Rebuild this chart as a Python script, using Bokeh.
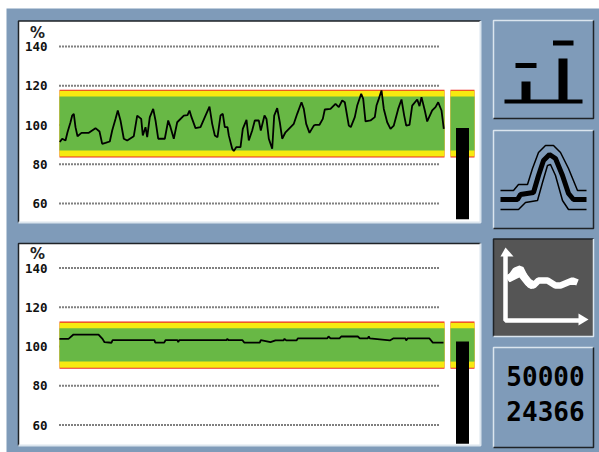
from bokeh.plotting import figure
from bokeh.models import Range1d
from bokeh.core.properties import value
from bokeh.embed import file_html
from bokeh.resources import INLINE

# ---- chart data ----
tick_values = [140, 120, 100, 80, 60]
grid_start, grid_end = 0, 381
band_end = 385

top_t = [0.3,2.7,6,8,11,12.7,14.3,16,18,22,29.3,36,40,42.7,46,50.3,52.7,56,58.3,61,64.3,67.7,74.3,77.7,81.7,83.3,86,87.7,90.3,93.7,96,98.7,105.3,108.7,111,114.3,117.7,124.3,128,
         130,132,136,141,146,150,152.7,155.3,158,161,163.3,165.3,168,169.3,172.7,174.3,176.7,181,183.3,187,189.3,192.7,195.3,199.3,201.3,205,207,209.3,212.7,214.7,217.7,220.3,222.7,226,234.3,237.7,242,244.3,246.7,250,254.3,
         256,260,263.3,265.3,271,276,279.3,282.7,285.3,289.3,291.3,295.3,297.7,301.7,303.7,306,311,315.3,317,319.3,322,324.3,327.7,331,334.3,338.7,342,344.7,346.7,350,352.7,357.7,360,362,365.3,367.7,372.7,376,378.7,382,384.3]
top_v = [91.3,93,92.1,96.3,101.4,104.8,105.7,98.9,94.3,96,96,98.4,96.7,90.4,90.9,91.6,97.2,103.1,107.4,102.3,93,92.1,94.3,104.8,103.1,94.7,98.9,93.8,104,108.2,102.3,93,93,102.3,98.9,93,101.4,104.8,105,
         107.4,104,98.4,98.9,104.8,109.4,100.6,94.7,93.8,104.8,105.7,98.9,98.9,94.7,87.9,86.7,88.7,88.7,98,102.6,92.1,97.2,102.3,102.3,97.2,104.8,103.1,93,87.9,104.8,108.6,101.4,93,96.3,100.6,105.7,111.6,108.2,100.6,96,99.7,
         100.1,100.1,103.1,107.9,108.2,110.8,109.1,112.5,111.6,99.7,98.9,104,109.9,115.9,113.3,101.8,102.3,104,109.9,113.3,117.6,108.2,101.4,98,99.7,108.2,113,104.8,99.7,100.1,109.9,113,109.6,114.2,107.4,101.8,107.4,109.1,111.6,107.4,98]

bottom_t = [0,9,14,39,43,45,52,53,59,67,95,95.7,104.7,106,118,118.7,119.7,120.7,167,167.7,169.3,183,184.7,200.3,201.3,211,216,224,225,226.7,237,238.3,267.7,269,271,280,281.7,298.3,300.3,308.3,309.3,310.3,330.3,333.7,346,346.7,348,370,373.3,384]
bottom_v = [103.9,103.9,106.1,106.1,103.9,102.2,101.9,103.2,103.2,103.2,103.2,102,102,103.2,103.2,102.2,103.2,103.2,103.2,103.9,103.2,103.2,102,102,103.2,102.2,103.1,103.1,103.9,103.1,103.1,104.1,104.1,105.1,104.1,104.1,105.1,105.1,104.1,104.1,105.1,104.1,103.1,104.1,104.1,103.1,104.1,104.1,102,102]

top_limits = [118, 114.5, 87, 83.4]
bottom_limits = [112.7, 109.3, 92.3, 88.6]
top_gauge, bottom_gauge = 98.5, 102.5
top_floor, bottom_floor = 52, 50.5
counter_lines = ["50000", "24366"]

icon_baseline_x = [504, 582]
icon_bar_x = [525.5, 562.5]
icon_bar_top = [81, 58]
icon_cap_y = [65, 42.5]
curve_mid_x = [500,517,520,533,538,543,549,555,562,568,573,586]
curve_mid_y = [199,199,194,192,175,160,154,158,175,193,199,199]
curve_hi_x = [500,513,518,527,532,538,545,553,560,568,577,586]
curve_hi_y = [190,190,184,184,168,152,145,145,152,168,190,190]
curve_lo_x = [500,518,525,537,542,547,550,555,562,568,576,586]
curve_lo_y = [209,209,202,200,182,165,164,175,200,209,209,209]
trend_x = [507,510,515,520,525,530,533,538,547,555,560,572,577]
trend_y = [279,277,270,268,278,285,285,280,280,285,285,280,282]
trend_wide_x = [508,520,528,533]
trend_wide_y = [278,272,282,285]

# ---- figure (1 unit = 1 page pixel) ----
W, H = 599, 452
PX_PER_PCT = 1.9625

def pct_range(y_at_100):
    return Range1d(100 + (y_at_100 - H) / PX_PER_PCT, 100 + y_at_100 / PX_PER_PCT)

p = figure(width=W, height=H, output_backend="svg", toolbar_location=None,
           x_range=Range1d(0, W), y_range=Range1d(H, 0), min_border=0,
           background_fill_color="white", border_fill_color="white", outline_line_color=None)
p.styles = {"position": "absolute", "left": "0px", "top": "0px"}
p.axis.visible = False
p.grid.visible = False
p.extra_x_ranges = {"t": Range1d(-59, W - 59)}
p.extra_y_ranges = {"a": pct_range(124.5), "b": pct_range(346)}

BLUE, DARK, LIGHT = "#7f9bb9", "#1f2327", "#dbe5ee"
p.quad(left=6, right=W, top=8, bottom=H, fill_color=BLUE, line_color=None)

def panel(top, bottom):
    p.quad(left=18, right=480, top=top, bottom=bottom, fill_color="white", line_color=None)
    p.line([18, 18, 480], [bottom, top, top], line_color=DARK, line_width=1.5)
    p.line([18, 480, 480], [bottom, bottom, top], line_color=LIGHT, line_width=2)

panel(20.5, 222)
panel(243, 445)

GREEN, YELLOW, RED = "#68b845", "#f6ea10", "#ee2b25"

def chart(rng, limits, t, v, gauge, floor, side_start=391, side_end=415):
    for val in tick_values:
        p.line([grid_start, grid_end], [val, val], x_range_name="t", y_range_name=rng,
               line_color="black", line_width=2, line_dash="1 2")
        p.text([-12], [val], text=[str(val)], x_range_name="t", y_range_name=rng,
               text_font=value("DejaVu Sans Mono"), text_font_style="bold", text_font_size="12.5px",
               text_align="right", text_baseline="middle", text_color="#111")
    hi, yhi, ylo, lo = limits
    for a, b in [(0, band_end), (side_start, side_end)]:
        p.quad(left=a, right=b, top=hi, bottom=lo, x_range_name="t", y_range_name=rng, fill_color=RED, line_color=None)
        p.quad(left=a, right=b, top=hi - 0.6, bottom=lo + 0.6, x_range_name="t", y_range_name=rng, fill_color=YELLOW, line_color=None)
        p.quad(left=a, right=b, top=yhi, bottom=ylo, x_range_name="t", y_range_name=rng, fill_color=GREEN, line_color=None)
    p.line(t, v, x_range_name="t", y_range_name=rng, line_color="black", line_width=1.8)
    p.quad(left=396.5, right=409.5, top=gauge, bottom=floor, x_range_name="t", y_range_name=rng,
           fill_color="black", line_color=None)
    p.text([-22], [147], text=["%"], x_range_name="t", y_range_name=rng,
           text_font=value("DejaVu Sans"), text_font_style="bold", text_font_size="15px",
           text_align="center", text_baseline="middle", text_color="#222")

chart("a", top_limits, top_t, top_v, top_gauge, top_floor)
chart("b", bottom_limits, bottom_t, bottom_v, bottom_gauge, bottom_floor)

def button(top, bottom, fill=BLUE, hi=LIGHT, lo=DARK):
    p.quad(left=493, right=593, top=top, bottom=bottom, fill_color=fill, line_color=None)
    p.line([493, 493, 593], [bottom, top, top], line_color=hi, line_width=1.5)
    p.line([493, 593, 593], [bottom, bottom, top], line_color=lo, line_width=1.5)

button(20, 118)
button(130, 228)
button(238.5, 336, fill="#555555", hi=DARK, lo=LIGHT)
button(347, 447)

# icon 1: bars with target caps
p.line(icon_baseline_x, [101, 101], line_color="black", line_width=4)
p.vbar(x=icon_bar_x, width=9, top=icon_bar_top, bottom=[101, 101], fill_color="black", line_color=None)
p.hbar(y=icon_cap_y, height=5, left=[515, 552.5], right=[536, 573], fill_color="black", line_color=None)

# icon 2: curve with envelope
p.line(curve_mid_x, curve_mid_y, line_color="black", line_width=5)
p.line(curve_hi_x, curve_hi_y, line_color="black", line_width=1.5)
p.line(curve_lo_x, curve_lo_y, line_color="black", line_width=1.5)

# icon 3: white trend with axes
p.line([505, 505, 580], [252, 320, 320], line_color="white", line_width=4.5)
p.patch([500, 505, 513], [256, 247, 256], fill_color="white", line_color=None)
p.patch([578, 588, 578], [313, 319, 325], fill_color="white", line_color=None)
p.line(trend_x, trend_y, line_color="white", line_width=6.5)
p.line(trend_wide_x, trend_wide_y, line_color="white", line_width=8)

# counters
p.text([545, 545], [375.5, 410.5], text=counter_lines, text_font=value("DejaVu Sans Mono"),
       text_font_style="bold", text_font_size="26px", text_align="center", text_baseline="middle",
       text_color="black")

open("out.html", "w").write(file_html(p, INLINE))
